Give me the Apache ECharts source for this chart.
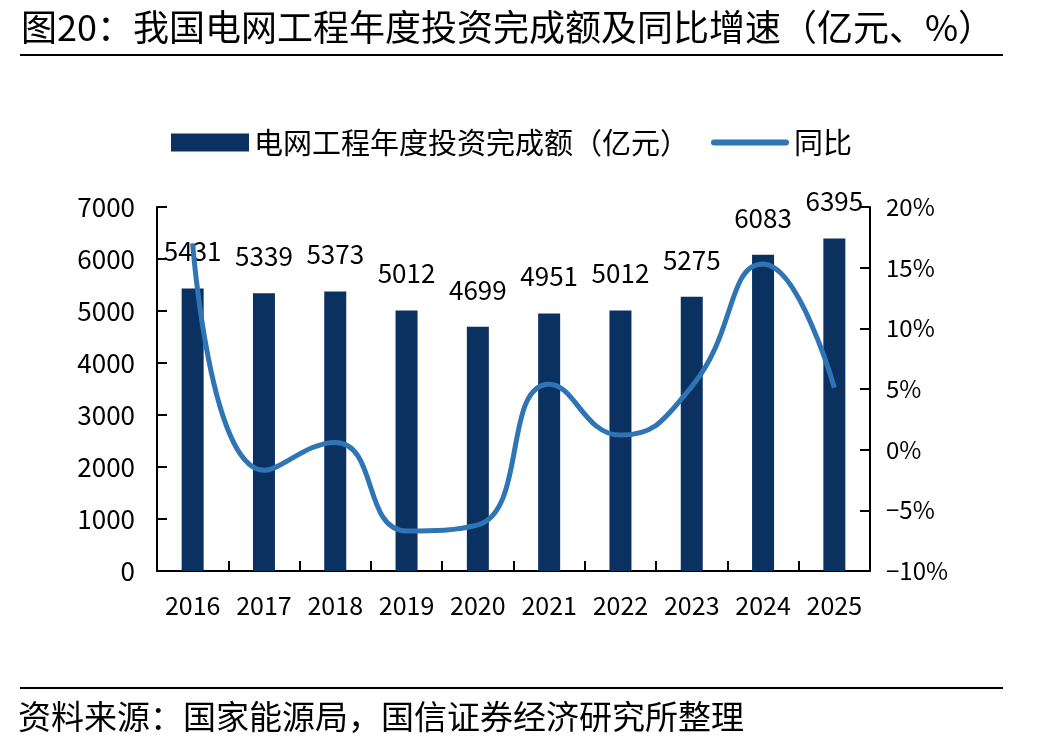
<!DOCTYPE html>
<html>
<head>
    <meta charset="utf-8"/>
    <title>我国电网工程年度投资完成额及同比增速</title>
    <script src="https://cdn.jsdelivr.net/npm/echarts@6/dist/echarts.min.js"></script>
    <style>
        html, body { margin: 0; padding: 0; background: #fff; }
        #main { width: 1055px; height: 755px; }
    </style>
</head>
<body>
<div id="main"></div>
<script type="text/javascript">
    // 数据
    var years = ['2016', '2017', '2018', '2019', '2020', '2021', '2022', '2023', '2024', '2025'];
    var investAmount = [5431, 5339, 5373, 5012, 4699, 4951, 5012, 5275, 6083, 6395]; // 亿元
    var yoyGrowth = [17.0, -1.7, 0.6, -6.7, -6.2, 5.4, 1.2, 5.2, 15.3, 5.1];        // %

    var font = '"Noto Sans CJK SC", "Noto Sans", sans-serif';
    var myChart = echarts.init(document.getElementById('main'));

    var chartOption = {
        backgroundColor: '#fff',
        animation: false,
        textStyle: { fontFamily: font },
        title: {
            text: '图20：我国电网工程年度投资完成额及同比增速（亿元、%）',
            left: 16,
            top: 4,
            textStyle: { fontFamily: font, fontSize: 36, fontWeight: 'normal', color: '#000' }
        },
        graphic: [
            // 标题下横线
            { type: 'line', shape: { x1: 20, y1: 55, x2: 1003, y2: 55 }, style: { stroke: '#000', lineWidth: 2 } },
            // 底部横线
            { type: 'line', shape: { x1: 20, y1: 688, x2: 1003, y2: 688 }, style: { stroke: '#000', lineWidth: 2 } },
            {
                type: 'text', left: 18, top: 700,
                style: { text: '资料来源：国家能源局，国信证券经济研究所整理', font: '33px ' + font, fill: '#000' }
            }
        ],
        legend: {
            top: 123,
            left: 166,
            itemWidth: 78,
            itemHeight: 18,
            itemGap: 22,
            textStyle: { fontFamily: font, fontSize: 29, color: '#000' },
            data: [
                { name: '电网工程年度投资完成额（亿元）', icon: 'rect' },
                { name: '同比', icon: 'path://M3,0 L75,0 A3,3 0 0 1 75,6 L3,6 A3,3 0 0 1 3,0 Z' }
            ]
        },
        grid: { left: 157, right: 185, top: 207, bottom: 184 },
        xAxis: {
            type: 'category',
            data: years,
            axisLine: { show: true, lineStyle: { color: '#000', width: 2 } },
            axisTick: { show: true, inside: true, length: 10, lineStyle: { color: '#000', width: 2 } },
            axisLabel: { interval: 0, margin: 22, fontSize: 25, color: '#000', fontFamily: font }
        },
        yAxis: [
            {
                type: 'value',
                min: 0, max: 7000, interval: 1000,
                splitLine: { show: false },
                axisLine: { show: true, lineStyle: { color: '#000', width: 2 } },
                axisTick: { show: true, inside: true, length: 10, lineStyle: { color: '#000', width: 2 } },
                axisLabel: {
                    margin: 22, fontSize: 26, color: '#000', fontFamily: font,
                    formatter: function (v) { return String(v); }
                }
            },
            {
                type: 'value',
                min: -10, max: 20, interval: 5,
                splitLine: { show: false },
                axisLine: { show: true, lineStyle: { color: '#000', width: 2 } },
                axisTick: { show: true, inside: true, length: 10, lineStyle: { color: '#000', width: 2 } },
                axisLabel: {
                    margin: 16, fontSize: 24, color: '#000', fontFamily: font,
                    formatter: function (v) { return String(v).replace('-', '\u2212') + '%'; }
                }
            }
        ],
        series: [
            {
                name: '电网工程年度投资完成额（亿元）',
                type: 'bar',
                barWidth: 22,
                itemStyle: { color: '#0b3161' },
                label: {
                    show: true, position: 'top', distance: 24,
                    fontSize: 26, color: '#000', fontFamily: font
                },
                data: investAmount
            },
            {
                name: '同比',
                type: 'line',
                yAxisIndex: 1,
                smooth: 0.5,
                symbol: 'none',
                lineStyle: { color: '#2f74b5', width: 5 },
                itemStyle: { color: '#2f74b5' },
                z: 5,
                data: yoyGrowth
            }
        ]
    };
    myChart.setOption(chartOption);
</script>
</body>
</html>
